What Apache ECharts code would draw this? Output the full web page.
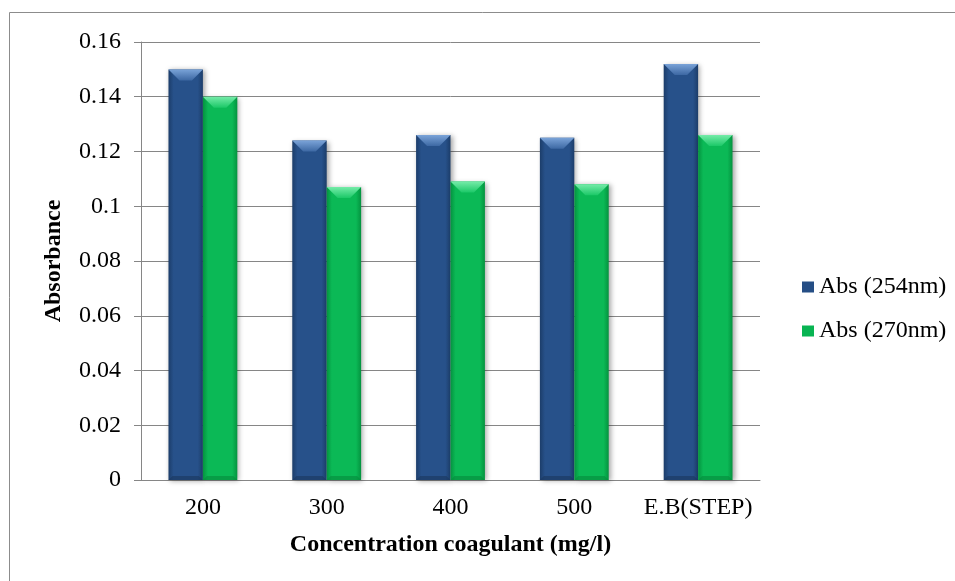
<!DOCTYPE html>
<html>
<head>
<meta charset="utf-8">
<script src="https://cdn.jsdelivr.net/npm/echarts@6/dist/echarts.min.js"></script>
<style>
  html, body { margin: 0; padding: 0; background: #fff; }
  #chart { width: 955px; height: 581px; }
</style>
</head>
<body>
<div id="chart"></div>
<script>
// Absorbance after coagulation, per coagulant dose
const categories = ['200', '300', '400', '500', 'E.B(STEP)'];
const abs254 = [0.150, 0.124, 0.126, 0.125, 0.152];
const abs270 = [0.140, 0.107, 0.109, 0.108, 0.126];
const seriesNames = ['Abs (254nm)', 'Abs (270nm)'];

const FONT = 'Liberation Serif';

// Palettes for the bevelled bars: body edge, body centre, bevel light, bevel dark
const palettes = [
  { edge: '#1c3d6a', mid: '#27518a', light: '#7aa3d8', lightEnd: '#3d68a3', dark: '#1a375e', solid: '#254e85' },
  { edge: '#04933f', mid: '#0bb956', light: '#74eba8', lightEnd: '#1bc867', dark: '#058a3c', solid: '#08b452' }
];

function bevelBar(seriesIdx) {
  const p = palettes[seriesIdx];
  return function (params, api) {
    const idx = api.value(0);
    const val = api.value(1);
    const base = api.coord([idx, 0]);
    const top = api.coord([idx, val]);
    const band = api.size([1, 0])[0];
    const w = band * 0.278;
    const x = seriesIdx === 0 ? base[0] - w : base[0];
    const y0 = top[1];
    const y1 = base[1];
    const b = 11;
    return {
      type: 'group',
      children: [
        {
          type: 'rect',
          shape: { x: x, y: y0, width: w, height: y1 - y0 },
          style: {
            fill: new echarts.graphic.LinearGradient(0, 0, 1, 0, [
              { offset: 0, color: p.edge },
              { offset: 0.15, color: p.mid },
              { offset: 0.85, color: p.mid },
              { offset: 1, color: p.edge }
            ]),
            shadowBlur: 5,
            shadowOffsetX: 2,
            shadowOffsetY: 1,
            shadowColor: 'rgba(0,0,0,0.35)'
          }
        },
        {
          type: 'polygon',
          shape: { points: [[x, y0], [x + w, y0], [x + w - b, y0 + b], [x + b, y0 + b]] },
          style: {
            fill: new echarts.graphic.LinearGradient(0, 0, 0, 1, [
              { offset: 0, color: p.light },
              { offset: 1, color: p.lightEnd }
            ])
          }
        },
        {
          type: 'polygon',
          shape: { points: [[x + 4, y1 - 4], [x + w - 4, y1 - 4], [x + w, y1], [x, y1]] },
          style: { fill: p.dark, opacity: 0.6 }
        }
      ]
    };
  };
}

function toData(values) {
  return values.map(function (v, i) { return [i, v]; });
}

const chart = echarts.init(document.getElementById('chart'), null, { renderer: 'canvas' });

chart.setOption({
  animation: false,
  backgroundColor: '#ffffff',
  textStyle: { fontFamily: FONT },
  graphic: [
    {
      type: 'rect',
      shape: { x: 9.5, y: 12.5, width: 960, height: 600 },
      style: { fill: 'none', stroke: '#8c8c8c', lineWidth: 1 },
      silent: true,
      z: -10
    }
  ],
  grid: { left: 141, right: 195, top: 42, bottom: 101, containLabel: false },
  legend: {
    orient: 'vertical',
    left: 797,
    top: 270,
    itemWidth: 12,
    itemHeight: 11,
    itemGap: 20,
    icon: 'rect',
    textStyle: { fontFamily: FONT, fontSize: 24, color: '#000' },
    data: seriesNames
  },
  xAxis: {
    type: 'category',
    data: categories,
    name: 'Concentration coagulant (mg/l)',
    nameLocation: 'middle',
    nameGap: 53,
    nameTextStyle: { fontFamily: FONT, fontSize: 24, fontWeight: 'bold', color: '#000' },
    axisLine: { lineStyle: { color: '#868686', width: 1 } },
    axisTick: { show: false },
    axisLabel: { fontFamily: FONT, fontSize: 24, color: '#000', margin: 16, interval: 0 },
    splitLine: { show: false }
  },
  yAxis: {
    type: 'value',
    min: 0,
    max: 0.16,
    interval: 0.02,
    name: 'Absorbance',
    nameLocation: 'middle',
    nameGap: 75,
    nameRotate: 90,
    nameTextStyle: { fontFamily: FONT, fontSize: 24, fontWeight: 'bold', color: '#000' },
    axisLine: { show: true, lineStyle: { color: '#868686', width: 1 } },
    axisTick: { show: true, length: 7, lineStyle: { color: '#868686' } },
    axisLabel: { fontFamily: FONT, fontSize: 24, color: '#000', margin: 20 },
    splitLine: { show: true, lineStyle: { color: '#868686', width: 1 } }
  },
  series: [
    {
      name: seriesNames[0],
      type: 'custom',
      renderItem: bevelBar(0),
      itemStyle: { color: palettes[0].solid },
      encode: { x: 0, y: 1 },
      data: toData(abs254),
      z: 3
    },
    {
      name: seriesNames[1],
      type: 'custom',
      renderItem: bevelBar(1),
      itemStyle: { color: palettes[1].solid },
      encode: { x: 0, y: 1 },
      data: toData(abs270),
      z: 3
    }
  ]
});
</script>
</body>
</html>
